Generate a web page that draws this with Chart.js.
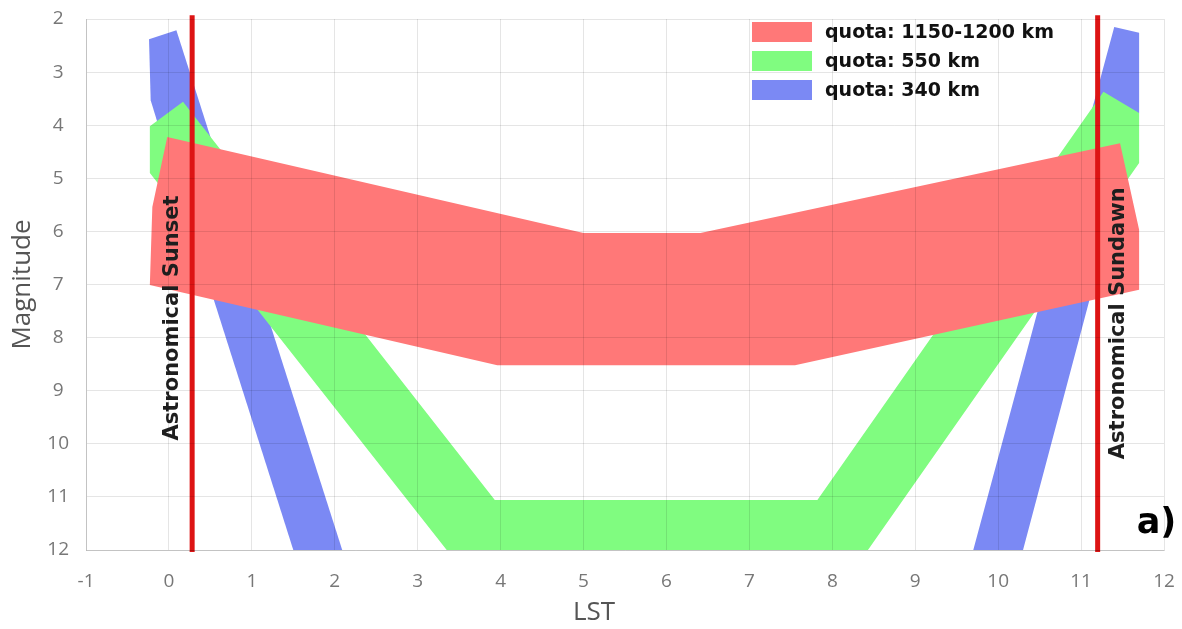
<!DOCTYPE html>
<html>
<head>
<meta charset="utf-8">
<script src="https://cdn.jsdelivr.net/npm/chart.js@4.4.0/dist/chart.umd.min.js"></script>
<style>
  html, body { margin: 0; padding: 0; background: #fff; }
  #wrap { width: 1182px; height: 629px; }
</style>
</head>
<body>
<div id="wrap"><canvas id="magChart"></canvas></div>
<script>
// outlines of the magnitude bands (LST in hours, magnitude)
const band1200X = [-0.02, 5.0, 6.41, 11.47, 11.70, 11.70, 7.55, 3.96, -0.23, -0.20];
const band1200Y = [4.22, 6.03, 6.03, 4.34, 5.97, 7.10, 8.52, 8.52, 7.01, 5.54];

const band550X = [-0.23, 0.17, 3.93, 7.82, 11.27, 11.70, 11.70, 8.43, 3.35, -0.23];
const band550Y = [4.02, 3.56, 11.06, 11.06, 3.37, 3.77, 4.71, 12, 12, 4.90];

// 340 km band comes in two pieces (evening / morning)
const band340LeftX = [-0.24, 0.09, 2.09, 1.50, -0.14, -0.22];
const band340LeftY = [2.38, 2.21, 12, 12, 3.94, 3.53];
const band340RightX = [11.40, 11.70, 11.70, 10.30, 9.70];
const band340RightY = [2.15, 2.26, 3.77, 12, 12];

const bandLabels = ['quota: 1150-1200 km', 'quota: 550 km', 'quota: 340 km'];
const bandColors = ['#ff7878', '#80fc80', '#7b89f4'];

const sunsetLST = 0.28;
const sundawnLST = 11.2;
const lineTop = 1.93;
const lineBottom = 12.04;

const toPoints = (xs, ys) => xs.map((x, i) => ({ x: x, y: ys[i] }));

const band340 = toPoints(band340LeftX, band340LeftY)
  .concat([{ x: 5, y: null }])
  .concat(toPoints(band340RightX, band340RightY));

const bandDataset = (label, data, color) => ({
  label: label,
  data: data,
  backgroundColor: color,
  borderColor: color,
  borderWidth: 0,
  pointRadius: 0,
  tension: 0,
  fill: 'shape',
  spanGaps: false
});

const vline = (label, x) => ({
  label: label,
  data: [{ x: x, y: lineTop }, { x: x, y: lineBottom }],
  borderColor: '#dd1414',
  borderWidth: 5,
  pointRadius: 0,
  fill: false,
  clip: false
});

// text on the chart and the legend box
const extras = {
  id: 'extras',
  afterDraw(chart) {
    const { ctx, scales: { x, y }, chartArea } = chart;
    ctx.save();
    ctx.fillStyle = '#1e1e1e';
    ctx.textAlign = 'center';
    ctx.textBaseline = 'middle';
    ctx.font = 'bold 21px "DejaVu Sans"';

    const labs = [
      ['Astronomical Sunset', x.getPixelForValue(sunsetLST) - 20, y.getPixelForValue(7.63)],
      ['Astronomical Sundawn', x.getPixelForValue(sundawnLST) + 21, y.getPixelForValue(7.73)]
    ];
    labs.forEach(([t, px, py]) => {
      ctx.save();
      ctx.translate(px, py);
      ctx.rotate(-Math.PI / 2);
      ctx.fillText(t, 0, 0);
      ctx.restore();
    });

    ctx.fillStyle = '#000';
    ctx.font = 'bold 35px "DejaVu Sans"';
    ctx.fillText('a)', x.getPixelForValue(11.91), y.getPixelForValue(11.5));

    // x axis title sits a bit left of centre in the original
    ctx.fillStyle = '#555';
    ctx.font = '26px "Open Sans"';
    ctx.fillText('LST', (chartArea.left + chartArea.right) / 2 - 31, chart.height - 16);

    // legend
    const left = chartArea.right - 412;
    ctx.font = 'bold 19px "DejaVu Sans"';
    ctx.textAlign = 'left';
    bandLabels.forEach((lab, i) => {
      const cy = chartArea.top + 13 + i * 29;
      ctx.fillStyle = bandColors[i];
      ctx.fillRect(left, cy - 10, 60, 20);
      ctx.fillStyle = '#111';
      ctx.fillText(lab, left + 73, cy + 1);
    });
    ctx.restore();
  }
};

const ctx = document.getElementById('magChart').getContext('2d');
new Chart(ctx, {
  type: 'line',
  data: {
    datasets: [
      vline('Astronomical Sunset', sunsetLST),
      vline('Astronomical Sundawn', sundawnLST),
      bandDataset(bandLabels[0], toPoints(band1200X, band1200Y), bandColors[0]),
      bandDataset(bandLabels[1], toPoints(band550X, band550Y), bandColors[1]),
      bandDataset(bandLabels[2], band340, bandColors[2])
    ]
  },
  options: {
    responsive: true,
    maintainAspectRatio: false,
    animation: false,
    layout: { padding: { top: 19, right: 18, left: 0, bottom: 0 } },
    plugins: {
      legend: { display: false },
      tooltip: { enabled: false }
    },
    scales: {
      x: {
        type: 'linear',
        min: -1,
        max: 12,
        ticks: {
          stepSize: 1,
          padding: 20,
          color: '#777',
          font: { family: 'Open Sans', size: 19 }
        },
        grid: { color: 'rgba(0,0,0,0.1)', drawTicks: false, z: 1 },
        border: { color: 'rgba(0,0,0,0.15)', z: 1 },
        afterFit(scale) {
          scale.height = 79;
          scale.paddingLeft = 0;
          scale.paddingRight = 0;
        }
      },
      y: {
        type: 'linear',
        reverse: true,
        min: 2,
        max: 12,
        ticks: {
          stepSize: 1,
          padding: 17,
          crossAlign: 'center',
          color: '#777',
          font: { family: 'Open Sans', size: 19 }
        },
        grid: { color: 'rgba(0,0,0,0.1)', drawTicks: false, z: 1 },
        border: { color: 'rgba(0,0,0,0.15)', z: 1 },
        title: {
          display: true,
          text: 'Magnitude',
          color: '#555',
          padding: { top: 7, bottom: 0 },
          font: { family: 'Open Sans', size: 26 }
        },
        afterFit(scale) {
          scale.width = 86;
          scale.paddingTop = 0;
          scale.paddingBottom = 0;
        }
      }
    }
  },
  plugins: [extras]
});
</script>
</body>
</html>
